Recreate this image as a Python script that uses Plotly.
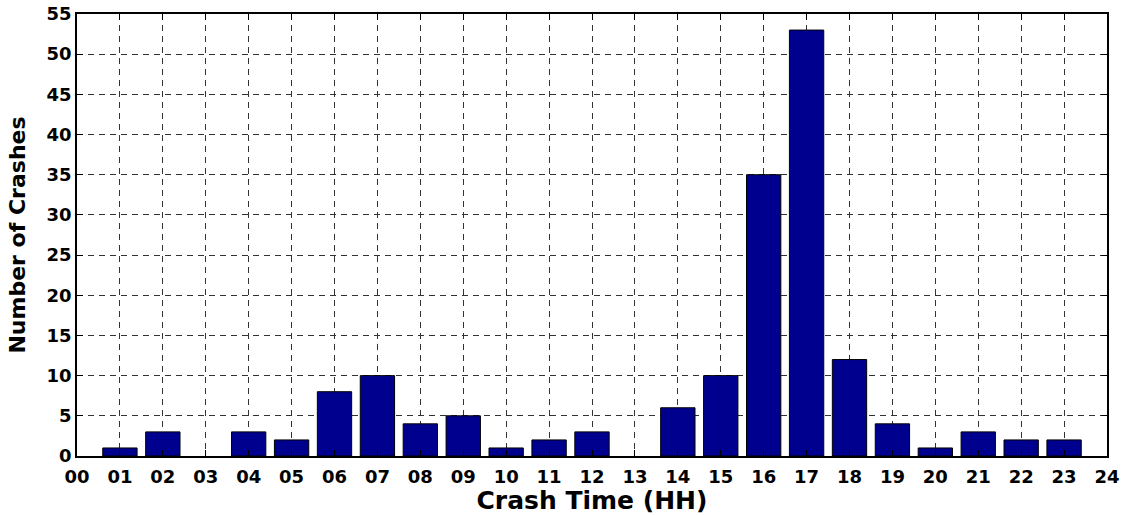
import plotly.graph_objects as go

hours = list(range(24))
crashes = [0, 1, 3, 0, 3, 2, 8, 10, 4, 5, 1, 2, 3, 0, 6, 10, 35, 53, 12, 4, 1, 3, 2, 2]
x_tick_vals = list(range(25))
x_tick_text = [f"{h:02d}" for h in x_tick_vals]
y_tick_vals = list(range(0, 56, 5))

# leading padding so the y title clears the tick labels as in the reference
y_tick_labels = ["\u00a0\u00a0" + str(v) for v in y_tick_vals]

edge_widths = [1 if c > 0 else 0 for c in crashes]

fig = go.Figure()
fig.add_trace(go.Bar(
    x=hours, y=crashes, width=0.8,
    marker=dict(color="#00008F", line=dict(color="black", width=edge_widths)),
))

FAM = "DejaVu Sans, Arial, sans-serif"
fig.update_layout(
    width=1121, height=515,
    margin=dict(l=77, r=14, t=14, b=59),
    plot_bgcolor="white", paper_bgcolor="white",
    showlegend=False,
    font=dict(family=FAM, color="black"),
)
common = dict(
    showline=True, linecolor="black", linewidth=1.5, mirror="ticks",
    ticks="inside", ticklen=6, tickcolor="black",
    showgrid=True, gridcolor="#333333", griddash="6px,5px", gridwidth=1,
    zeroline=False, automargin=False, ticklabeloverflow="allow",
)
fig.update_xaxes(
    range=[0, 24], tickvals=x_tick_vals, ticktext=x_tick_text,
    tickfont=dict(size=18, family=FAM, color="black", weight="bold"),
    ticklabelstandoff=4,
    title=dict(text="Crash Time (HH)", font=dict(size=25, family=FAM, color="black", weight="bold"), standoff=0),
    **common,
)
fig.update_yaxes(
    range=[0, 55], tickvals=y_tick_vals, ticktext=y_tick_labels,
    tickfont=dict(size=18, family=FAM, color="black", weight="bold"),
    title=dict(text="Number of Crashes", font=dict(size=22, family=FAM, color="black", weight="bold"), standoff=2),
    **common,
)
fig.write_html("out.html")
